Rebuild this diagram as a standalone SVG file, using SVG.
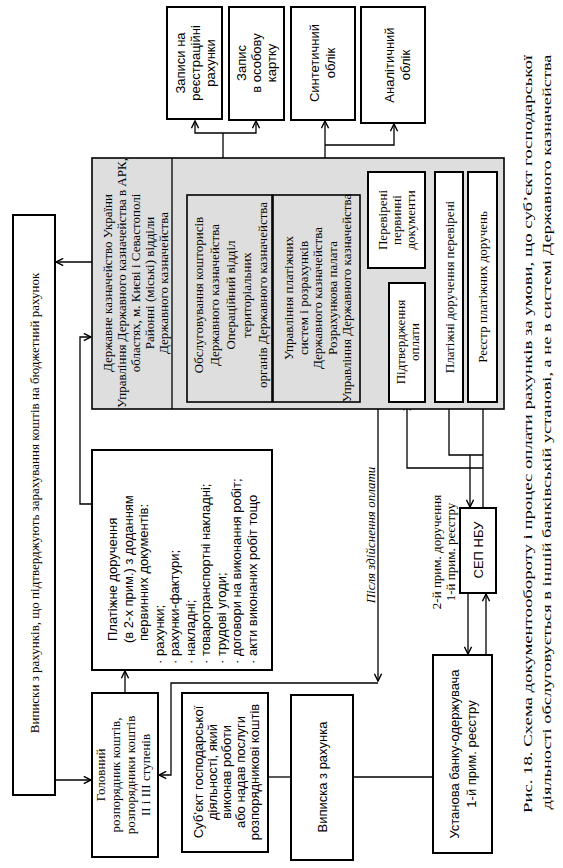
<svg xmlns="http://www.w3.org/2000/svg" width="563" height="868" viewBox="0 0 563 868">
<style>
.box{fill:#fff;stroke:#000;stroke-width:2}
.shade{fill:#dedede;stroke:#000;stroke-width:1.6}
.ln{fill:none;stroke:#000;stroke-width:1.3}
.arr{marker-end:url(#ah)}
text{dominant-baseline:central;fill:#000}
.sr{font-family:"Liberation Serif","Times New Roman",serif;font-size:13px;text-anchor:middle}
.sn{font-family:"Liberation Sans",Arial,sans-serif;font-size:13px;text-anchor:middle}
.st{text-anchor:start}
.it{font-style:italic}
</style>
<defs>
<marker id="ah" viewBox="0 0 10 10" refX="9" refY="5" markerWidth="9" markerHeight="9" markerUnits="userSpaceOnUse" orient="auto"><path d="M1,1 L9,5 L1,9" fill="none" stroke="#000" stroke-width="1.6"/></marker>
</defs>

<g id="connectors">
<path class="ln arr" d="M92,262 H56"/>
<path class="ln arr" d="M55,780 H91"/>
<path class="ln arr" d="M125,693 V671"/>
<path class="ln arr" d="M92,504 H80 V337 H91"/>
<path class="ln arr" d="M172,290 H186"/>
<path class="ln" d="M223,195 V133"/>
<path class="ln arr" d="M223,133 H195 V121"/>
<path class="ln arr" d="M223,133 H256 V121"/>
<path class="ln arr" d="M325,195 V121"/>
<path class="ln arr" d="M325,145 H394 V124"/>
<path class="ln arr" d="M360,275 H434"/>
<path class="ln arr" d="M389,342 H361"/>
<path class="ln arr" d="M378,268 V681"/>
<path class="ln arr" d="M378,683 H171 V775 H159"/>
<path class="ln" d="M449,402 V455 H483"/>
<path class="ln" d="M483,402 V508"/>
<path class="ln arr" d="M470,455 V507"/>
<path class="ln arr" d="M483,468 H407 V403"/>
<path class="ln arr" d="M468,593 V654"/>
<path class="ln arr" d="M486,655 V594"/>
<path class="ln" d="M268,777 H291"/>
<path class="ln" d="M353,777 H433"/>
</g>

<g id="zapysy">
<rect class="box" x="167" y="7" width="55" height="112"/>
<text class="sn" transform="rotate(-90)"><tspan x="-63" y="180">Записи на</tspan><tspan x="-63" y="195">реєстраційні</tspan><tspan x="-63" y="210">рахунки</tspan></text>
</g>
<g id="zapys">
<rect class="box" x="229" y="7" width="55" height="113"/>
<text class="sn" transform="rotate(-90)"><tspan x="-63" y="241">Запис</tspan><tspan x="-63" y="256">в особову</tspan><tspan x="-63" y="271">картку</tspan></text>
</g>
<g id="syntetychnyi">
<rect class="box" x="291" y="7" width="64" height="113"/>
<text class="sn" transform="rotate(-90)"><tspan x="-63" y="314">Синтетичний</tspan><tspan x="-63" y="330">облік</tspan></text>
</g>
<g id="analitychnyi">
<rect class="box" x="361" y="7" width="64" height="116"/>
<text class="sn" transform="rotate(-90)"><tspan x="-65" y="389">Аналітичний</tspan><tspan x="-65" y="405">облік</tspan></text>
</g>

<g id="treasury">
<rect class="shade" x="92" y="158" width="412" height="251"/>
<path class="ln" d="M172,158 V409"/>
<text class="sr" font-size="12.5" transform="rotate(-90)"><tspan x="-283" y="107">Державне казначейство України</tspan><tspan x="-283" y="121">Управління Державного казначейства в АРК,</tspan><tspan x="-283" y="135">областях, м. Києві і Севастополі</tspan><tspan x="-283" y="149">Районні (міські) відділи</tspan><tspan x="-283" y="163">Державного казначейства</tspan></text>
</g>
<g id="obsl">
<rect class="shade" x="187" y="195" width="85" height="207"/>
<text class="sr" font-size="13.5" transform="rotate(-90)"><tspan x="-295" y="198">Обслуговування кошторисів</tspan><tspan x="-295" y="214">Державного казначейства</tspan><tspan x="-295" y="230">Операційний відділ</tspan><tspan x="-295" y="246">територіальних</tspan><tspan x="-295" y="262">органів Державного казначейства</tspan></text>
</g>
<g id="uprav">
<rect class="shade" x="273" y="195" width="87" height="207"/>
<text class="sr" font-size="13" transform="rotate(-90)"><tspan x="-298" y="288">Управління платіжних</tspan><tspan x="-298" y="302.5">систем і розрахунків</tspan><tspan x="-298" y="317">Державного казначейства</tspan><tspan x="-298" y="331.5">Розрахункова палата</tspan><tspan x="-298" y="346">Управління Державного казначейства</tspan></text>
</g>
<g id="perev">
<rect class="box" x="368" y="172" width="57" height="96"/>
<text class="sr" font-size="14" transform="rotate(-90)"><tspan x="-220" y="382">Перевірені</tspan><tspan x="-220" y="396">первинні</tspan><tspan x="-220" y="410">документи</tspan></text>
</g>
<g id="pidtv">
<rect class="box" x="389" y="283" width="36" height="119"/>
<text class="sr" font-size="14" transform="rotate(-90)"><tspan x="-342" y="400">Підтвердження</tspan><tspan x="-342" y="414">оплати</tspan></text>
</g>
<g id="plat_perev">
<rect class="box" x="435" y="172" width="28" height="230"/>
<text class="sr" font-size="14" transform="rotate(-90)" x="-287" y="449">Платіжні доручення перевірені</text>
</g>
<g id="reestr">
<rect class="box" x="468" y="172" width="29" height="230"/>
<text class="sr" font-size="14" transform="rotate(-90)" x="-287" y="482.5">Реєстр платіжних доручень</text>
</g>

<g id="vypysky">
<rect class="box" x="13" y="215" width="42" height="580"/>
<text class="sr" font-size="17" transform="rotate(-90)" x="-503" y="34">Виписки з рахунків, що підтверджують зарахування коштів на бюджетний рахунок</text>
</g>

<g id="platizhne">
<rect class="box" x="92" y="450" width="180" height="220"/>
<text class="sn st" transform="rotate(-90)"><tspan x="-641" y="112">Платіжне доручення</tspan><tspan x="-643" y="127.5">(в 2-х прим.) з доданням</tspan><tspan x="-641" y="143">первинних документів:</tspan><tspan x="-664" y="158.5">· рахунки;</tspan><tspan x="-664" y="174">· рахунки-фактури;</tspan><tspan x="-664" y="189.5">· накладні;</tspan><tspan x="-664" y="205">· товаротранспортні накладні;</tspan><tspan x="-664" y="220.5">· трудові угоди;</tspan><tspan x="-664" y="236">· договори на виконання робіт;</tspan><tspan x="-664" y="251.5">· акти виконаних робіт тощо</tspan></text>
</g>

<g id="golovnyi">
<rect class="box" x="92" y="693" width="66" height="164"/>
<text class="sr" font-size="14" transform="rotate(-90)"><tspan x="-775" y="100">Головний</tspan><tspan x="-775" y="115">розпорядник коштів,</tspan><tspan x="-775" y="130">розпорядники коштів</tspan><tspan x="-775" y="145">II і III ступенів</tspan></text>
</g>
<g id="subyekt">
<rect class="box" x="182" y="693" width="86" height="159"/>
<text class="sn" transform="rotate(-90)"><tspan x="-772" y="198">Суб’єкт господарської</tspan><tspan x="-772" y="212">діяльності, який</tspan><tspan x="-772" y="226">виконав роботи</tspan><tspan x="-772" y="240">або надав послуги</tspan><tspan x="-772" y="254">розпорядникові коштів</tspan></text>
</g>
<g id="vypyska">
<rect class="box" x="291" y="695" width="62" height="165"/>
<text class="sn" font-size="14" transform="rotate(-90)" x="-777" y="322">Виписка з рахунка</text>
</g>
<g id="ustanova">
<rect class="box" x="433" y="655" width="59" height="198"/>
<text class="sn" font-size="14" transform="rotate(-90)"><tspan x="-754" y="454">Установа банку-одержувача</tspan><tspan x="-754" y="471">1-й прим. реєстру</tspan></text>
</g>
<g id="sep">
<rect class="box" x="460" y="508" width="36" height="85"/>
<text class="sn" font-size="15" transform="rotate(-90)" x="-550" y="478">СЕП НБУ</text>
</g>

<g id="labels">
<text class="sr" font-size="14" transform="rotate(-90)"><tspan x="-552" y="436">2-й прим. доручення</tspan><tspan x="-552" y="450">1-й прим. реєстру</tspan></text>
<text class="sr it" font-size="14.5" transform="rotate(-90)" x="-535" y="370">Після здійснення оплати</text>
<text class="sr" font-size="20" transform="rotate(-90)"><tspan x="-434" y="527" textLength="758" lengthAdjust="spacingAndGlyphs">Рис. 18. Схема документообороту і процес оплати рахунків за умови, що суб’єкт господарської</tspan><tspan x="-432" y="546" textLength="755" lengthAdjust="spacingAndGlyphs">діяльності обслуговується в іншій банківській установі, а не в системі Державного казначейства</tspan></text>
</g>
</svg>
